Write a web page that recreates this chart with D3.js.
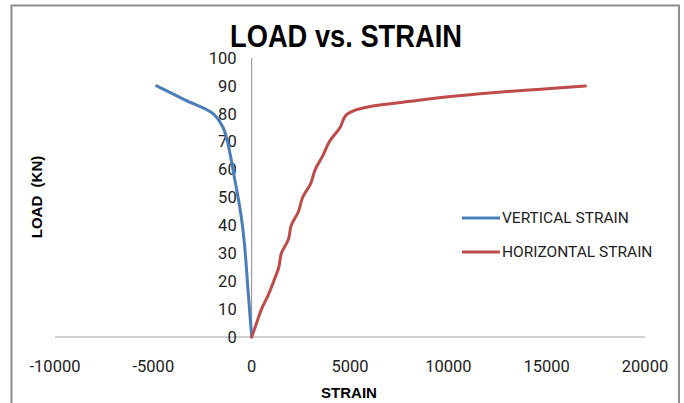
<!DOCTYPE html>
<html>
<head>
<meta charset="utf-8">
<script src="https://cdn.jsdelivr.net/npm/d3@7"></script>
<style>
  body { margin: 0; background: #fff; }
  svg { display: block; }
</style>
</head>
<body>
<div id="chart"></div>
<script>
// data
const loads = [0, 5, 10, 15, 20, 25, 30, 35, 40, 45, 50, 55, 60, 65, 70, 75, 80, 85, 90];
const verticalStrain = [0, -55, -110, -165, -220, -270, -325, -390, -470, -570, -690, -820, -950, -1080, -1230, -1450, -1950, -3400, -4830];
const horizontalStrain = [0, 250, 500, 840, 1120, 1380, 1510, 1870, 2010, 2380, 2590, 3000, 3230, 3620, 3950, 4490, 4880, 8700, 16970];
const xTicks = [-10000, -5000, 0, 5000, 10000, 15000, 20000];
const yTicks = [0, 10, 20, 30, 40, 50, 60, 70, 80, 90, 100];
const seriesNames = ["VERTICAL STRAIN", "HORIZONTAL STRAIN"];
const seriesColors = ["#4a7ebb", "#be4b48"];

const W = 684, H = 403;

const svg = d3.select("#chart")
  .append("svg")
  .attr("width", W)
  .attr("height", H);

// chart frame
svg.append("rect")
  .attr("x", 11.5)
  .attr("y", 5.5)
  .attr("width", 667.5)
  .attr("height", 420)
  .attr("fill", "#fff")
  .attr("stroke", "#8c8c8c")
  .attr("stroke-width", 2);

const x = d3.scaleLinear().domain([-10000, 20000]).range([55, 645]);
const y = d3.scaleLinear().domain([0, 100]).range([337, 58]);

// axes lines
svg.append("line")
  .attr("x1", x(-10000)).attr("x2", x(20000))
  .attr("y1", y(0)).attr("y2", y(0))
  .attr("stroke", "#bfbfbf")
  .attr("stroke-width", 1.5);

svg.append("line")
  .attr("x1", x(0)).attr("x2", x(0))
  .attr("y1", y(100)).attr("y2", y(0))
  .attr("stroke", "#8c8c8c")
  .attr("stroke-width", 1);

// tick labels
const tickFont = "Roboto, 'Liberation Sans', sans-serif";

svg.selectAll(".xtick")
  .data(xTicks)
  .enter()
  .append("text")
  .attr("class", "xtick")
  .attr("x", d => x(d))
  .attr("y", 372)
  .attr("text-anchor", "middle")
  .style("font-family", tickFont)
  .style("font-size", "16.5px")
  .attr("fill", "#222")
  .text(d => d);

svg.selectAll(".ytick")
  .data(yTicks)
  .enter()
  .append("text")
  .attr("class", "ytick")
  .attr("x", x(0) - 15)
  .attr("y", d => y(d))
  .attr("dy", "0.35em")
  .attr("text-anchor", "end")
  .style("font-family", tickFont)
  .style("font-size", "16.5px")
  .attr("fill", "#222")
  .text(d => d);

// series
const line = d3.line()
  .x(d => x(d[0]))
  .y(d => y(d[1]))
  .curve(d3.curveCatmullRom.alpha(0.5));

const series = [verticalStrain, horizontalStrain];
series.forEach((vals, i) => {
  svg.append("path")
    .datum(vals.map((v, j) => [v, loads[j]]))
    .attr("d", line)
    .attr("fill", "none")
    .attr("stroke", seriesColors[i])
    .attr("stroke-width", 3)
    .attr("stroke-linecap", "round")
    .attr("stroke-linejoin", "round");
});

// title
svg.append("text")
  .attr("x", 346)
  .attr("y", 47)
  .attr("text-anchor", "middle")
  .attr("textLength", 232)
  .attr("lengthAdjust", "spacingAndGlyphs")
  .style("font-family", "'Liberation Sans Narrow', 'Liberation Sans', sans-serif")
  .style("font-weight", "bold")
  .style("font-size", "31px")
  .attr("fill", "#000")
  .text("LOAD vs. STRAIN");

// axis titles
svg.append("text")
  .attr("x", 349)
  .attr("y", 398)
  .attr("text-anchor", "middle")
  .style("font-family", "'Liberation Sans', sans-serif")
  .style("font-weight", "bold")
  .style("font-size", "15px")
  .attr("fill", "#000")
  .text("STRAIN");

svg.append("text")
  .attr("transform", "translate(42,197) rotate(-90)")
  .attr("text-anchor", "middle")
  .style("font-family", "'Liberation Sans', sans-serif")
  .style("font-weight", "bold")
  .style("font-size", "15px")
  .attr("fill", "#000")
  .style("white-space", "pre")
  .text("LOAD  (KN)");

// legend
const legend = svg.append("g")
  .attr("transform", "translate(462,218)");

seriesNames.forEach((name, i) => {
  legend.append("line")
    .attr("x1", 0).attr("x2", 38)
    .attr("y1", i * 34).attr("y2", i * 34)
    .attr("stroke", seriesColors[i])
    .attr("stroke-width", 3);
  legend.append("text")
    .attr("x", 40)
    .attr("y", i * 34)
    .attr("dy", "0.35em")
    .style("font-family", tickFont)
    .style("font-size", "15.5px")
    .attr("fill", "#222")
    .text(name);
});
</script>
</body>
</html>
